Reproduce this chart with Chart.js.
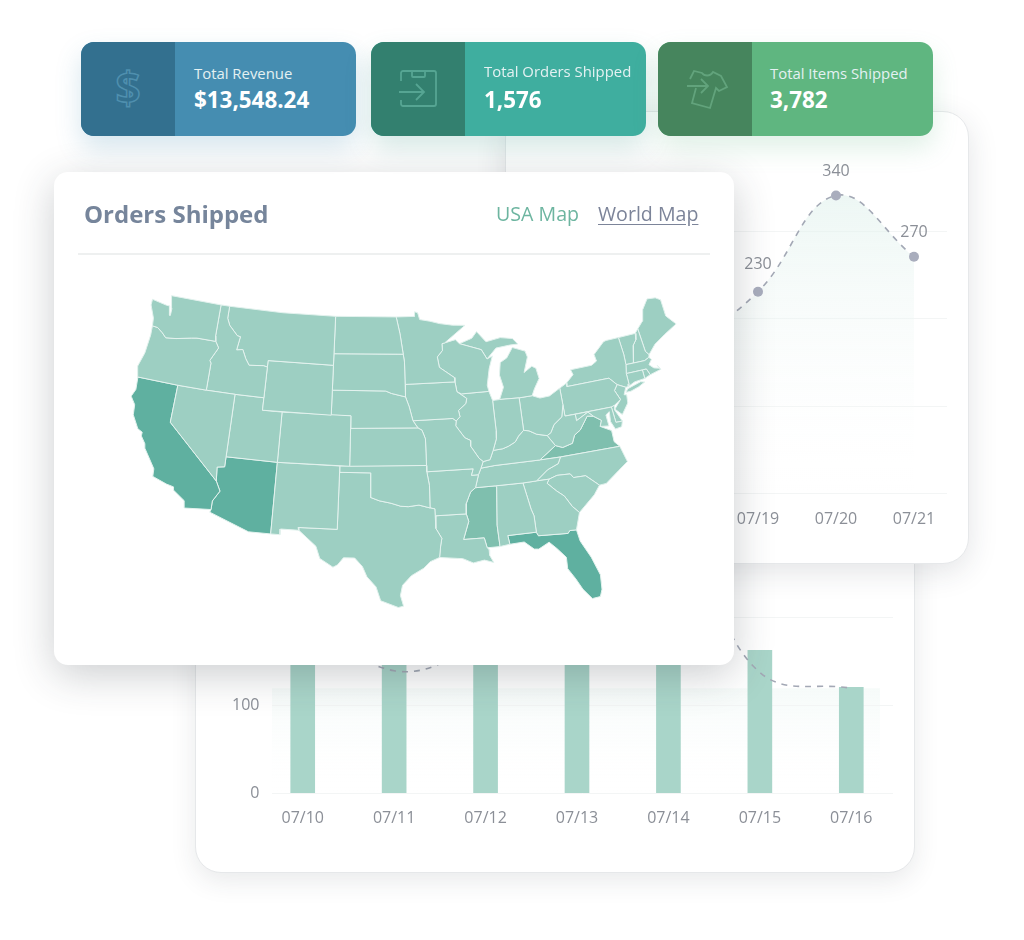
<!DOCTYPE html>
<html lang="en">
<head>
<meta charset="UTF-8">
<title>Orders Shipped</title>
<script src="https://cdn.jsdelivr.net/npm/chart.js"></script>
<style>
    html, body { margin: 0; padding: 0; background: #fff; }
    body { width: 1024px; height: 940px; position: relative; overflow: hidden; font-family: "Open Sans", sans-serif; }
    .panel { position: absolute; background: #fff; box-sizing: border-box; }
    .panel canvas { position: absolute; left: 0; top: 0; }
    #barPanel { left: 195px; top: 500px; width: 720px; height: 373px; border-radius: 26px; z-index: 1;
        border: 1px solid #e6e8ea; box-shadow: 0 8px 26px rgba(40,50,60,.10); }
    #linePanel { left: 505px; top: 111px; width: 464px; height: 453px; border-radius: 26px; z-index: 2;
        border: 1px solid #e6e8ea; box-shadow: 0 8px 30px rgba(40,50,60,.13); }
    #mapPanel { left: 54px; top: 172px; width: 680px; height: 493px; border-radius: 14px; z-index: 3;
        box-shadow: 0 10px 40px rgba(40,50,60,.24); }
    #mapPanel h2 { position: absolute; left: 30px; top: 25px; margin: 0; font-size: 24px; line-height: 34px; font-weight: 700; color: #76859b; }
    .maplink { position: absolute; top: 27px; font-size: 19.6px; line-height: 30px; }
    #mapPanel hr { position: absolute; left: 24px; top: 81px; width: 632px; margin: 0; border: 0; border-top: 2px solid #eef0f0; }
    .kpi { position: absolute; top: 42px; width: 275px; height: 94px; border-radius: 13px; overflow: hidden; z-index: 4; color: #fff; }
    .kpiwrap { position: absolute; top: 42px; width: 275px; height: 94px; border-radius: 13px; z-index: 4; }
    .kpi .side { position: absolute; left: 0; top: 0; bottom: 0; width: 94px; }
    .kpi svg { position: absolute; left: 22px; top: 22px; width: 50px; height: 50px; fill: none; stroke-width: 1.8; }
    .kpi .lbl { position: absolute; top: 20px; font-size: 14.9px; line-height: 22px; color: #e4f1f2; white-space: nowrap; }
    .kpi .val { position: absolute; top: 42px; font-size: 22.4px; line-height: 32px; font-weight: 700; white-space: nowrap; }
</style>
</head>
<body>

<div class="kpiwrap" style="left:81px; box-shadow: 0 12px 26px rgba(70,141,177,.22)"></div>
<div class="kpi" style="left:81px; background:#458db1">
    <div class="side" style="background:#33708f"></div>
    <svg viewBox="0 0 50 50" stroke="#4f8fae"><text x="25" y="40" text-anchor="middle" font-family="Open Sans" font-weight="700" font-size="44" stroke-width="1.5">$</text></svg>
    <div class="lbl" style="left:113px">Total Revenue</div>
    <div class="val" style="left:113px">$13,548.24</div>
</div>

<div class="kpiwrap" style="left:371px; box-shadow: 0 12px 26px rgba(63,150,135,.22)"></div>
<div class="kpi" style="left:371px; background:#3fae9f">
    <div class="side" style="background:#33806f"></div>
    <svg viewBox="0 0 50 50" stroke="#56a593">
        <path d="M8 17V9a2 2 0 0 1 2-2h31a2 2 0 0 1 2 2v31a2 2 0 0 1-2 2H10a2 2 0 0 1-2-2v-4"/>
        <path d="M19 7v5a1 1 0 0 0 1 1h11a1 1 0 0 0 1-1V7"/>
        <path d="M6 28h24M23 20l8 8-8 8"/>
    </svg>
    <div class="lbl" style="left:113px; top:18px">Total Orders Shipped</div>
    <div class="val" style="left:113px">1,576</div>
</div>

<div class="kpiwrap" style="left:658px; box-shadow: 0 12px 26px rgba(95,182,128,.2)"></div>
<div class="kpi" style="left:658px; background:#5fb680">
    <div class="side" style="background:#46855d"></div>
    <svg viewBox="0 0 50 50" stroke="#62a37c">
        <path d="M10 15l4-8 8 2c2 3 8 4 11-1l8 4 6 11-8 4-3-3-6 20-18-5 4-15"/>
        <path d="M7 22h21M21 15l7 7-7 7"/>
    </svg>
    <div class="lbl" style="left:112px">Total Items Shipped</div>
    <div class="val" style="left:112px">3,782</div>
</div>

<div class="panel" id="linePanel"><canvas id="lineChart" width="462" height="451"></canvas></div>
<div class="panel" id="barPanel"><canvas id="barChart" width="718" height="371"></canvas></div>

<div class="panel" id="mapPanel">
    <h2>Orders Shipped</h2>
    <div class="maplink" style="left:442px; color:#6db5a0">USA Map</div>
    <div class="maplink" style="left:544px; color:#7c8499; text-decoration:underline; text-underline-offset:3px">World Map</div>
    <hr>
    <canvas id="mapChart" width="580" height="340" style="left:66px; top:108px"></canvas>
</div>

<script>
// line chart
const lineDays = ['07/17', '07/18', '07/19', '07/20', '07/21'];
const lineValues = [120, 165, 230, 340, 270];
const lineTicks = [0, 100, 200, 300];

// bar chart, the tops hidden behind the map card are estimates
const barDays = ['07/10', '07/11', '07/12', '07/13', '07/14', '07/15', '07/16'];
const barValues = [230, 200, 210, 240, 260, 162, 120];
const barLineValues = [210, 139, 175, 250, 300, 137, 119];
const barTicks = [0, 100, 200, 300];

// state outlines, flat lon,lat lists
const WA = [-124.7,48.38,-123,48.15,-122.65,48.15,-122.45,47.4,-122.35,47.4,-122.35,48,-122.5,48.45,-122.75,49,-117.03,49,-117.04,46.42,-116.92,45.99,-118.98,46,-119.6,45.92,-121.2,45.65,-122.3,45.55,-122.8,45.9,-123.4,46.22,-124,46.27,-124.1,46.9,-124.7,47.9];
const OR = [-124,46.27,-123.4,46.22,-122.8,45.9,-122.3,45.55,-121.2,45.65,-119.6,45.92,-118.98,46,-116.92,45.99,-116.5,45.5,-117.2,44.4,-117.03,44.2,-117.03,42,-120,42,-124.2,42,-124.5,42.85,-124.1,44,-123.95,45.5];
const CA = [-124.2,42,-120,42,-120,39,-114.63,35,-114.15,34.25,-114.72,33.4,-114.72,32.72,-117.12,32.53,-117.3,33.1,-118.4,33.75,-118.5,34.03,-119.2,34.15,-120.6,34.55,-120.65,35.15,-121.9,36.6,-122,36.95,-122.5,37.5,-122.5,37.8,-123,38,-123.75,39,-123.85,39.8,-124.4,40.4,-124.1,41];
const NV = [-120,42,-117.03,42,-114.04,42,-114.04,36.2,-114.75,36.1,-114.63,35,-120,39];
const ID = [-117.03,49,-116.05,49,-116.05,48,-115.7,47.45,-114.7,46.7,-114.35,46.65,-114.55,45.55,-113.9,45.65,-113.45,44.95,-113,44.45,-111.5,44.55,-111.05,44.48,-111.05,42,-114.04,42,-117.03,42,-117.03,44.2,-117.2,44.4,-116.5,45.5,-116.92,45.99,-117.04,46.42];
const MT = [-116.05,49,-110,49,-104.05,49,-104.05,45,-111.05,45,-111.05,44.48,-111.5,44.55,-113,44.45,-113.45,44.95,-113.9,45.65,-114.55,45.55,-114.35,46.65,-114.7,46.7,-115.7,47.45,-116.05,48];
const WY = [-111.05,45,-104.05,45,-104.05,41,-111.05,41];
const UT = [-114.04,42,-111.05,42,-111.05,41,-109.05,41,-109.05,37,-114.04,37];
const AZ = [-114.04,37,-109.05,37,-109.05,31.33,-111.07,31.33,-114.8,32.5,-114.72,32.72,-114.72,33.4,-114.15,34.25,-114.63,35,-114.75,36.1,-114.04,36.2];
const CO = [-109.05,41,-102.05,41,-102.05,37,-109.05,37];
const NM = [-109.05,37,-103,37,-103.04,32,-106.62,32,-106.53,31.78,-108.2,31.78,-108.2,31.33,-109.05,31.33];
const ND = [-104.05,49,-97.23,49,-96.85,47.6,-96.56,45.94,-104.05,45.94];
const SD = [-104.05,45.94,-96.56,45.94,-96.45,45.3,-96.45,43.5,-96.45,42.5,-97.9,42.8,-98.5,43,-104.05,43];
const NE = [-104.05,43,-98.5,43,-97.9,42.8,-96.45,42.5,-96.1,41.7,-95.77,40.58,-95.3,40,-102.05,40,-102.05,41,-104.05,41];
const KS = [-102.05,40,-95.3,40,-94.9,39.8,-94.6,39.1,-94.62,37,-102.05,37];
const OK = [-103,37,-94.62,37,-94.62,36.5,-94.43,35.4,-94.48,33.64,-95.5,33.9,-96.5,33.8,-97.2,33.85,-98.1,34.1,-99.2,34.3,-100,34.56,-100,36.5,-103,36.5];
const TX = [-106.62,32,-103.04,32,-103,36.5,-100,36.5,-100,34.56,-99.2,34.3,-98.1,34.1,-97.2,33.85,-96.5,33.8,-95.5,33.9,-94.48,33.64,-94.04,33.55,-94.04,33,-94.04,32,-93.55,31.2,-93.7,30.6,-93.85,29.7,-94.7,29.4,-95.3,28.9,-96.4,28.35,-97.2,27.6,-97.4,26.8,-97.15,25.95,-97.6,25.85,-99.1,26.4,-99.5,27.5,-100.3,28.3,-100.7,29.1,-101.4,29.77,-102.4,29.77,-102.9,29.2,-103.3,29,-104.5,29.65,-104.9,30.6,-106.53,31.78];
const MN = [-97.23,49,-95.15,49,-95.15,49.38,-94.8,49.3,-94.6,48.72,-93.5,48.55,-92.4,48.3,-91,48.1,-89.6,48,-92,46.7,-92.3,46.65,-92.3,46.1,-92.9,45.6,-92.75,44.75,-91.25,43.85,-91.22,43.5,-96.45,43.5,-96.45,45.3,-96.56,45.94,-96.85,47.6];
const IA = [-96.45,43.5,-91.22,43.5,-91.1,42.7,-90.15,42.1,-90.3,41.7,-91.1,41.2,-91,40.7,-91.42,40.38,-91.73,40.6,-95.77,40.58,-96.1,41.7,-96.45,42.5];
const MO = [-95.77,40.58,-91.73,40.6,-91.42,40.38,-91.5,40,-90.7,39,-90.15,38.75,-90.2,38.3,-89.5,37.3,-89.13,37,-89.4,36.5,-89.7,36,-90.37,36,-90.15,36.5,-94.62,36.5,-94.62,37,-94.6,39.1,-94.9,39.8,-95.3,40];
const AR = [-94.62,36.5,-90.15,36.5,-90.37,36,-89.7,36,-90.1,35,-90.6,34.7,-91.1,33.8,-91.17,33,-94.04,33,-94.04,33.55,-94.48,33.64,-94.43,35.4];
const LA = [-94.04,33,-91.17,33,-91,32.4,-91.6,31,-89.73,31,-89.55,30.2,-89.4,30.05,-89.4,29.6,-89.1,29,-89.9,29.25,-90.9,29.1,-91.8,29.5,-92.3,29.55,-93.85,29.7,-93.7,30.6,-93.55,31.2,-94.04,32];
const WI = [-92,46.7,-90.8,46.9,-90.4,46.55,-88.1,45.9,-87.6,45.1,-87,45.3,-87.5,44.3,-87.9,43,-87.8,42.5,-90.65,42.5,-91.1,42.7,-91.22,43.5,-91.25,43.85,-92.75,44.75,-92.9,45.6,-92.3,46.1,-92.3,46.65];
const IL = [-90.65,42.5,-87.8,42.5,-87.53,41.75,-87.53,39.3,-87.6,38.7,-88.05,37.8,-88.45,37.1,-89.13,37,-89.5,37.3,-90.2,38.3,-90.15,38.75,-90.7,39,-91.5,40,-91.42,40.38,-91,40.7,-91.1,41.2,-90.3,41.7,-90.15,42.1,-91.1,42.7];
const IN = [-87.53,41.75,-87.2,41.75,-86.8,41.76,-84.8,41.7,-84.82,39.1,-85.4,38.7,-85.8,38.27,-86.5,38,-87.1,37.85,-88.05,37.8,-87.6,38.7,-87.53,39.3];
const MI = [-86.8,41.76,-84.8,41.7,-83.45,41.73,-83.1,42.25,-82.45,43,-82.6,43.85,-83,44.07,-83.9,43.65,-83.3,44.85,-83.45,45.35,-84.75,45.78,-85.5,45,-86.25,44.7,-86.5,43.7,-86.25,42.7];
const MIU = [-90.4,46.55,-88.1,45.9,-87.6,45.1,-86.5,45.9,-85,46,-84.1,46,-84.6,46.5,-85.9,46.7,-87.5,46.5,-88.4,47.4,-89,46.9];
const OH = [-84.8,41.7,-83.45,41.73,-82.7,41.45,-81.7,41.5,-80.52,41.98,-80.52,40.64,-80.85,39.7,-81.75,39.2,-82.2,38.6,-82.6,38.42,-83.6,38.65,-84.3,39,-84.82,39.1];
const KY = [-89.4,36.5,-88.05,36.6,-83.68,36.6,-81.97,37.54,-82.6,38.42,-83.6,38.65,-84.3,39,-84.82,39.1,-85.4,38.7,-85.8,38.27,-86.5,38,-87.1,37.85,-88.05,37.8,-88.45,37.1,-89.13,37];
const TN = [-89.4,36.5,-88.05,36.6,-83.68,36.6,-81.68,36.59,-82,36.1,-83.1,35.75,-84.3,35,-85.6,34.98,-88.2,35,-90.1,35,-89.7,36];
const MS = [-90.1,35,-88.2,35,-88.1,34.9,-88.45,31.9,-88.4,30.2,-89.55,30.2,-89.73,31,-91.6,31,-91,32.4,-91.17,33,-91.1,33.8,-90.6,34.7];
const AL = [-88.2,35,-85.6,34.98,-85.18,32.85,-85,32.3,-85,31,-87.6,31,-87.5,30.3,-88,30.25,-88.4,30.2,-88.45,31.9,-88.1,34.9];
const GA = [-85.6,34.98,-84.3,35,-83.1,35,-83.35,34.7,-82.6,34,-81.95,33.5,-81.4,32.6,-80.85,32.03,-81.4,30.72,-82,30.75,-82.2,30.55,-84.86,30.7,-85,31,-85,32.3,-85.18,32.85];
const FL = [-87.6,31,-85,31,-84.86,30.7,-82.2,30.55,-82,30.75,-81.4,30.72,-81.25,29.8,-80.55,28.4,-80.05,26.9,-80.15,25.75,-80.4,25.2,-81.1,25.15,-81.75,26,-82.2,26.9,-82.75,27.8,-82.7,28.7,-83.4,29.5,-84,30.08,-85,29.65,-85.4,29.7,-86.2,30.35,-87.5,30.3];
const SC = [-83.1,35,-82.3,35.2,-81.05,35.15,-80.8,34.82,-79.65,34.8,-78.55,33.87,-79.2,33.2,-80.85,32.03,-81.4,32.6,-81.95,33.5,-82.6,34,-83.35,34.7];
const NC = [-84.3,35,-83.1,35.75,-82,36.1,-81.68,36.59,-75.87,36.55,-75.5,35.25,-76.5,34.7,-77.9,33.9,-78.55,33.87,-79.65,34.8,-80.8,34.82,-81.05,35.15,-82.3,35.2,-83.1,35];
const VA = [-83.68,36.6,-81.97,37.54,-81.3,37.3,-80.3,37.5,-79.95,38.1,-79.3,38.42,-78.35,39.4,-77.75,39.3,-77.05,38.85,-77.3,38.4,-76.3,37.9,-76.3,37,-75.87,36.55,-81.68,36.59];
const WV = [-82.6,38.42,-81.97,37.54,-81.3,37.3,-80.3,37.5,-79.95,38.1,-79.3,38.42,-78.35,39.4,-77.75,39.3,-78.2,39.7,-79.48,39.2,-79.48,39.72,-80.52,39.72,-80.52,40.64,-80.85,39.7,-81.75,39.2,-82.2,38.6];
const MD = [-79.48,39.72,-75.79,39.72,-75.7,38.46,-75.05,38.45,-75.25,38.03,-75.9,37.95,-76.2,38.6,-76.1,39.4,-76.5,39.2,-76.45,38.3,-77.3,38.4,-77.05,38.85,-77.75,39.3,-78.2,39.7,-79.48,39.2];
const DE = [-75.79,39.72,-75.45,39.8,-75.55,39.45,-75.05,38.45,-75.7,38.46];
const PA = [-80.52,41.98,-79.76,42.27,-79.76,42,-75.35,42,-74.7,41.36,-75.1,40.95,-74.72,40.15,-75.45,39.8,-75.79,39.72,-80.52,39.72];
const NJ = [-74.7,41.36,-73.9,41,-74.25,40.45,-74,40.4,-74.1,39.75,-74.9,38.95,-75.5,39.5,-74.72,40.15,-75.1,40.95];
const NY = [-79.76,42,-79.76,42.27,-78.9,42.85,-79.05,43.27,-76.8,43.3,-76.2,43.55,-76.3,44.1,-75,44.95,-74.7,45,-73.35,45,-73.25,43.6,-73.3,42.75,-73.5,42.05,-73.5,41.2,-73.65,41,-73.9,41,-74.7,41.36,-75.35,42];
const LI = [-74,40.6,-73.75,40.85,-72.3,41.15,-71.9,41.05,-72.6,40.8,-73.5,40.6];
const CT = [-73.65,41,-73.5,41.2,-73.5,42.05,-71.8,42.02,-71.8,41.32,-72.9,41.25];
const RI = [-71.8,42.02,-71.38,42.02,-71.15,41.5,-71.8,41.32];
const MA = [-73.5,42.05,-73.3,42.75,-72.46,42.73,-71.3,42.7,-70.8,42.87,-70.6,42.65,-71,42.3,-70.6,41.95,-70,41.8,-70.2,42.07,-69.95,41.7,-71.15,41.5,-71.38,42.02,-71.8,42.02];
const VT = [-73.35,45,-71.5,45,-71.6,44.5,-72.05,44.1,-72.45,43,-72.46,42.73,-73.3,42.75,-73.25,43.6];
const NH = [-71.5,45,-71.1,45.3,-70.98,43.4,-70.7,43.07,-70.8,42.87,-71.3,42.7,-72.46,42.73,-72.45,43,-72.05,44.1,-71.6,44.5];
const ME = [-71.1,45.3,-70.4,45.8,-70,46.7,-69.2,47.45,-68.3,47.35,-67.8,47.07,-67.8,45.7,-67,44.85,-68.5,44.3,-69.8,43.75,-70.7,43.07,-70.98,43.4];

const baseStates = [WA,OR,NV,ID,MT,WY,UT,CO,NM,ND,SD,NE,KS,OK,TX,MN,IA,MO,AR,LA,WI,IL,IN,MI,MIU,OH,KY,TN,AL,GA,SC,NC,WV,MD,DE,PA,NJ,NY,LI,CT,RI,MA,VT,NH,ME];
const midStates = [MS, VA];
const topStates = [CA, AZ, FL];

// Albers equal area, parallels and central meridian moved to sit like the picture
function albers(lon, lat) {
    const rad = Math.PI / 180, R = 6371;
    const p1 = 24 * rad, p2 = 42 * rad, p0 = 37.5 * rad;
    const n = (Math.sin(p1) + Math.sin(p2)) / 2;
    const c = Math.cos(p1) * Math.cos(p1) + 2 * n * Math.sin(p1);
    const rho0 = R * Math.sqrt(c - 2 * n * Math.sin(p0)) / n;
    const rho = R * Math.sqrt(c - 2 * n * Math.sin(lat * rad)) / n;
    const th = n * (lon + 99.5) * rad;
    return { x: rho * Math.sin(th), y: rho0 - rho * Math.cos(th) };
}

function stateDataset(flat, color) {
    let pts = [];
    for (let i = 0; i < flat.length; i += 2) pts.push(albers(flat[i], flat[i + 1]));
    pts.push(pts[0]);
    return { data: pts, showLine: true, fill: 'shape', backgroundColor: color, borderColor: '#e3f2ee', borderWidth: 1, pointRadius: 0, tension: 0 };
}

new Chart(document.getElementById('mapChart'), {
    type: 'scatter',
    data: { datasets: [
        ...baseStates.map(s => stateDataset(s, '#9dcfc2')),
        ...midStates.map(s => stateDataset(s, '#7fbfae')),
        ...topStates.map(s => stateDataset(s, '#5fb0a0'))
    ] },
    options: {
        responsive: false, animation: false,
        layout: { padding: 0 },
        plugins: { legend: { display: false }, tooltip: { enabled: false } },
        scales: {
            x: { display: false, type: 'linear', min: -2175, max: 2752 },
            y: { display: false, type: 'linear', min: -1418, max: 1600 }
        }
    }
});

// horizontal grid lines with their own start and end, inside the canvas
function gridPlugin(x0, x1) {
    return {
        id: 'softGrid',
        beforeDatasetsDraw(chart) {
            const c = chart.ctx, y = chart.scales.y;
            c.save();
            c.strokeStyle = '#f3f5f5';
            c.lineWidth = 1;
            y.ticks.forEach(t => {
                const py = Math.round(y.getPixelForValue(t.value)) + 0.5;
                c.beginPath(); c.moveTo(x0, py); c.lineTo(x1, py); c.stroke();
            });
            c.restore();
        }
    };
}

function softFill(context) {
    const area = context.chart.chartArea;
    if (!area) return 'transparent';
    const g = context.chart.ctx.createLinearGradient(0, context.chart.scales.y.getPixelForValue(340), 0, area.bottom);
    g.addColorStop(0, 'rgba(222,240,235,.55)');
    g.addColorStop(1, 'rgba(255,255,255,0)');
    return g;
}

function fixedAxes(ticks, maxY, below, tickPad) {
    return {
        x: { offset: true, grid: { display: false }, border: { display: false },
            ticks: { color: '#8b8f97', font: { family: 'Open Sans', size: 16 }, padding: tickPad, maxRotation: 0, autoSkip: false },
            afterFit(s) { s.height = below; } },
        y: { min: 0, max: maxY, grid: { display: false, drawTicks: false }, border: { display: false },
            afterBuildTicks(s) { s.ticks = ticks.map(v => ({ value: v })); },
            // mirrored so the labels are not clipped by the zero width axis
            ticks: { mirror: true, crossAlign: 'far', color: '#8b8f97', font: { family: 'Open Sans', size: 16 }, padding: -25 },
            afterFit(s) { s.width = 0; } }
    };
}

new Chart(document.getElementById('lineChart'), {
    type: 'line',
    data: { labels: lineDays, datasets: [{
        data: lineValues, fill: true, backgroundColor: softFill, tension: 0.4,
        borderColor: '#a3a8b5', borderWidth: 1.6, borderDash: [6, 6],
        pointRadius: 5, pointBackgroundColor: '#a9adbd', pointBorderWidth: 0, clip: false
    }] },
    options: {
        responsive: false, animation: false,
        layout: { padding: { left: 57, right: 15, top: 31, bottom: 0 } },
        plugins: { legend: { display: false }, tooltip: { enabled: false } },
        scales: fixedAxes(lineTicks, 400, 70, 9)
    },
    plugins: [gridPlugin(57, 441), {
        id: 'valueLabels',
        afterDatasetsDraw(chart) {
            const c = chart.ctx, pts = chart.getDatasetMeta(0).data;
            c.save();
            c.font = '16px "Open Sans"';
            c.fillStyle = '#8b8f97';
            c.textAlign = 'center';
            c.textBaseline = 'middle';
            pts.forEach((p, i) => c.fillText(String(lineValues[i]), p.x, p.y - (lineValues[i] === 230 ? 27 : 24)));
            c.restore();
        }
    }]
});

new Chart(document.getElementById('barChart'), {
    data: { labels: barDays, datasets: [
        { type: 'line', data: barLineValues, fill: false, tension: 0.4,
          borderColor: '#a3a8b5', borderWidth: 1.6, borderDash: [6, 6], pointRadius: 0, order: 1 },
        { type: 'bar', data: barValues, backgroundColor: '#a9d5c9', barThickness: 24, order: 2 }
    ] },
    options: {
        responsive: false, animation: false,
        layout: { padding: { left: 61, right: 17, top: 28, bottom: 0 } },
        plugins: { legend: { display: false }, tooltip: { enabled: false } },
        scales: fixedAxes(barTicks, 300, 79, 8)
    },
    plugins: [{
        id: 'plotShade',
        beforeDatasetsDraw(chart) {
            const c = chart.ctx, y = chart.scales.y, top = y.getPixelForValue(119), bottom = y.getPixelForValue(0);
            const g = c.createLinearGradient(0, top, 0, bottom);
            g.addColorStop(0, 'rgba(222,240,235,.28)');
            g.addColorStop(1, 'rgba(255,255,255,0)');
            c.save();
            c.fillStyle = g;
            c.fillRect(76, top, 608, bottom - top);
            c.restore();
        }
    }, gridPlugin(76, 697)]
});
</script>
</body>
</html>
